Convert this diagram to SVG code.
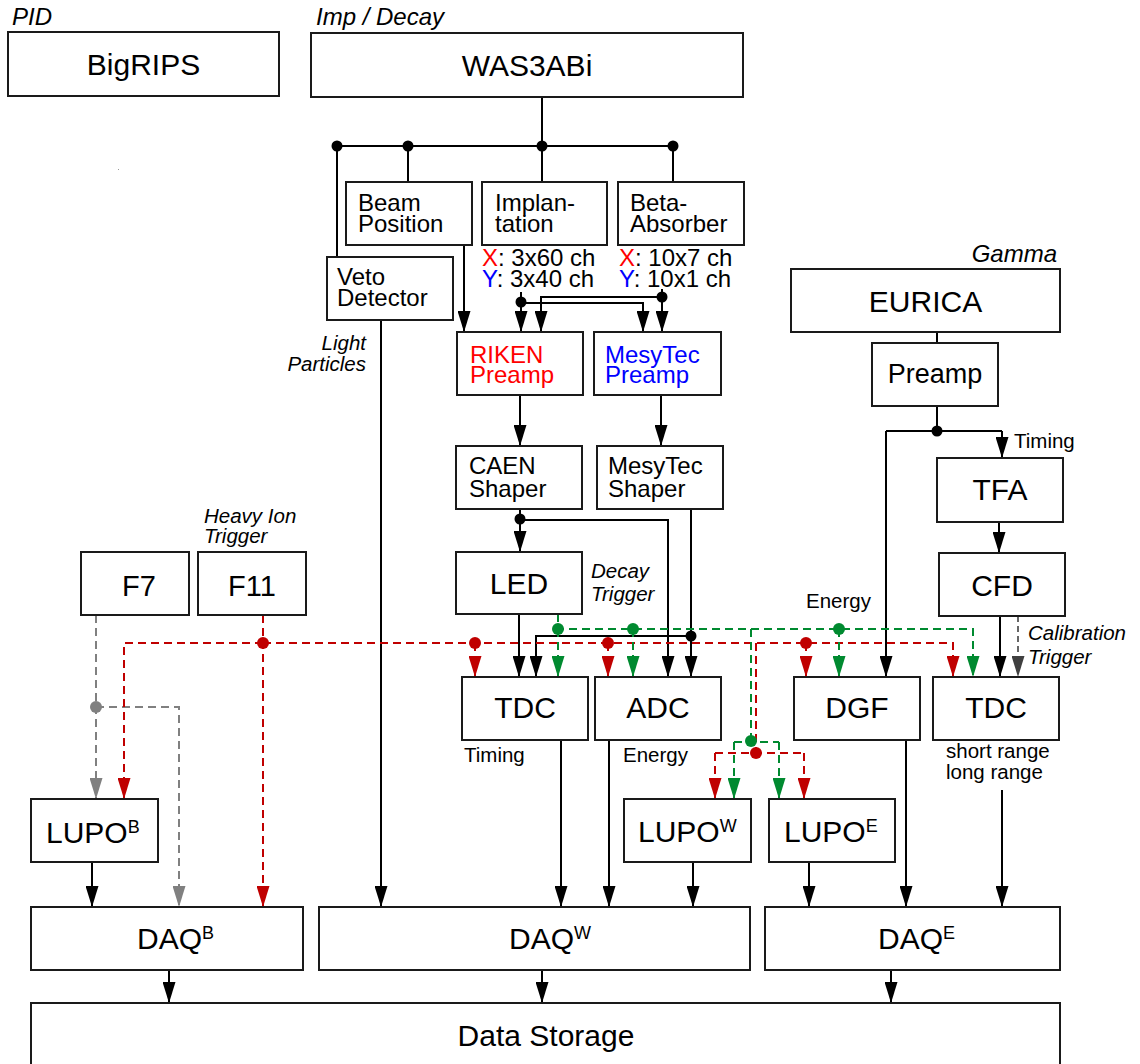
<svg xmlns="http://www.w3.org/2000/svg" width="1140" height="1064" viewBox="0 0 1140 1064">
<style>
.box{fill:#fff;stroke:#1a1a1a;stroke-width:2}
.ln{fill:none;stroke:#000;stroke-width:2}
.rd{fill:none;stroke:#c00000;stroke-width:2;stroke-dasharray:8 5}
.gn{fill:none;stroke:#008a30;stroke-width:2;stroke-dasharray:8 5}
.gy{fill:none;stroke:#808080;stroke-width:2;stroke-dasharray:8 5}
.dg{fill:none;stroke:#666;stroke-width:2;stroke-dasharray:6 4}
.dk{fill:#000}.dr{fill:#c00000}.dgn{fill:#008a30}.dgy{fill:#808080}
text{font-family:"Liberation Sans",Arial,sans-serif;font-size:24px;fill:#000}
.big{font-size:30px}
.mid{text-anchor:middle}
.it{font-style:italic}
.sm{font-size:20.5px}
.hd{font-size:24px;font-style:italic}
</style>
<defs>
<marker id="ah" viewBox="0 0 21 13" refX="21" refY="6.5" markerWidth="21" markerHeight="13" markerUnits="userSpaceOnUse" orient="auto"><path d="M0,0 L21,6.5 L0,13 Z" fill="#000"/></marker>
<marker id="ahr" viewBox="0 0 21 13" refX="21" refY="6.5" markerWidth="21" markerHeight="13" markerUnits="userSpaceOnUse" orient="auto"><path d="M0,0 L21,6.5 L0,13 Z" fill="#c00000"/></marker>
<marker id="ahg" viewBox="0 0 21 13" refX="21" refY="6.5" markerWidth="21" markerHeight="13" markerUnits="userSpaceOnUse" orient="auto"><path d="M0,0 L21,6.5 L0,13 Z" fill="#008a30"/></marker>
<marker id="ahy" viewBox="0 0 21 13" refX="21" refY="6.5" markerWidth="21" markerHeight="13" markerUnits="userSpaceOnUse" orient="auto"><path d="M0,0 L21,6.5 L0,13 Z" fill="#808080"/></marker>
<marker id="ahd" viewBox="0 0 21 13" refX="21" refY="6.5" markerWidth="21" markerHeight="13" markerUnits="userSpaceOnUse" orient="auto"><path d="M0,0 L21,6.5 L0,13 Z" fill="#404040"/></marker>
</defs>
<rect width="1140" height="1064" fill="#fff"/>

<g id="section-labels">
<text class="hd" x="12" y="25">PID</text>
<text class="hd" x="316" y="25">Imp / Decay</text>
<text class="hd" x="1057" y="262" text-anchor="end">Gamma</text>
<text class="it sm" x="366" y="350" text-anchor="end">Light</text>
<text class="it sm" x="366" y="371" text-anchor="end">Particles</text>
<text class="it sm" x="591" y="578">Decay</text>
<text class="it sm" x="591" y="601">Trigger</text>
<text class="it sm" x="204" y="523">Heavy Ion</text>
<text class="it sm" x="204" y="543">Trigger</text>
<text class="it sm" x="1028" y="640">Calibration</text>
<text class="it sm" x="1028" y="664">Trigger</text>
<text class="sm" x="464" y="762">Timing</text>
<text class="sm" x="623" y="762">Energy</text>
<text class="sm" x="806" y="608">Energy</text>
<text class="sm" x="1014" y="448">Timing</text>
<text class="sm" x="946" y="758">short range</text>
<text class="sm" x="946" y="779">long range</text>
<text x="482" y="266"><tspan fill="#ff0000">X</tspan>: 3x60 ch</text>
<text x="482" y="287"><tspan fill="#0000ff">Y</tspan>: 3x40 ch</text>
<text x="619" y="266"><tspan fill="#ff0000">X</tspan>: 10x7 ch</text>
<text x="619" y="287"><tspan fill="#0000ff">Y</tspan>: 10x1 ch</text>
<rect x="118" y="169" width="1" height="1" fill="#999"/>
</g>

<g id="connectors">
<!-- black solid -->
<path class="ln" d="M542,97 V146 M337,146 H673 M408,146 V182 M542,146 V182 M673,146 V182 M337,146 V257"/>
<path class="ln" d="M464,245 V332" marker-end="url(#ah)"/>
<path class="ln" d="M381,320 V907" marker-end="url(#ah)"/>
<path class="ln" d="M521,292 V332" marker-end="url(#ah)"/>
<path class="ln" d="M521,303 H643 V332" marker-end="url(#ah)"/>
<path class="ln" d="M662,289 V332" marker-end="url(#ah)"/>
<path class="ln" d="M662,297 H541 V332" marker-end="url(#ah)"/>
<path class="ln" d="M520,395 V446" marker-end="url(#ah)"/>
<path class="ln" d="M661,395 V446" marker-end="url(#ah)"/>
<path class="ln" d="M520,509 V552" marker-end="url(#ah)"/>
<path class="ln" d="M520,520 H668 V677" marker-end="url(#ah)"/>
<path class="ln" d="M691,509 V677" marker-end="url(#ah)"/>
<path class="ln" d="M691,636 H536 V677" marker-end="url(#ah)"/>
<path class="ln" d="M519,614 V677" marker-end="url(#ah)"/>
<path class="ln" d="M561,740 V907" marker-end="url(#ah)"/>
<path class="ln" d="M609,740 V907" marker-end="url(#ah)"/>
<path class="ln" d="M693,862 V907" marker-end="url(#ah)"/>
<path class="ln" d="M809,862 V907" marker-end="url(#ah)"/>
<path class="ln" d="M906,740 V907" marker-end="url(#ah)"/>
<path class="ln" d="M1002,790 V907" marker-end="url(#ah)"/>
<path class="ln" d="M92,862 V907" marker-end="url(#ah)"/>
<path class="ln" d="M937,332 V343 M937,406 V431 M886,431 H1002"/>
<path class="ln" d="M886,431 V677" marker-end="url(#ah)"/>
<path class="ln" d="M1002,431 V458" marker-end="url(#ah)"/>
<path class="ln" d="M999,522 V553" marker-end="url(#ah)"/>
<path class="ln" d="M1000,616 V677" marker-end="url(#ah)"/>
<path class="ln" d="M169,970 V1003" marker-end="url(#ah)"/>
<path class="ln" d="M542,970 V1003" marker-end="url(#ah)"/>
<path class="ln" d="M891,970 V1003" marker-end="url(#ah)"/>
<!-- gray -->
<path class="gy" d="M96,615 V799" marker-end="url(#ahy)"/>
<path class="gy" d="M96,707 H179 V907" marker-end="url(#ahy)"/>
<path class="dg" d="M1018,616 V677" marker-end="url(#ahd)"/>
<!-- red -->
<path class="rd" d="M263,615 V907" marker-end="url(#ahr)"/>
<path class="rd" d="M263,643 H124 V799" marker-end="url(#ahr)"/>
<path class="rd" d="M263,643 H953 V677" marker-end="url(#ahr)"/>
<path class="rd" d="M475,643 V677" marker-end="url(#ahr)"/>
<path class="rd" d="M608,643 V677" marker-end="url(#ahr)"/>
<path class="rd" d="M806,643 V677" marker-end="url(#ahr)"/>
<path class="rd" d="M756,643 V753 M715,753 H804"/>
<path class="rd" d="M715,753 V799" marker-end="url(#ahr)"/>
<path class="rd" d="M804,753 V799" marker-end="url(#ahr)"/>
<!-- green -->
<path class="gn" d="M558,614 V629 H973 V677" marker-end="url(#ahg)"/>
<path class="gn" d="M558,629 V677" marker-end="url(#ahg)"/>
<path class="gn" d="M633,629 V677" marker-end="url(#ahg)"/>
<path class="gn" d="M839,629 V677" marker-end="url(#ahg)"/>
<path class="gn" d="M751,629 V742 M734,742 H779"/>
<path class="gn" d="M734,742 V799" marker-end="url(#ahg)"/>
<path class="gn" d="M779,742 V799" marker-end="url(#ahg)"/>
<!-- dots -->
<circle class="dk" cx="337" cy="146" r="5.5"/>
<circle class="dk" cx="408" cy="146" r="5.5"/>
<circle class="dk" cx="542" cy="146" r="5.5"/>
<circle class="dk" cx="673" cy="146" r="5.5"/>
<circle class="dk" cx="521" cy="302" r="5.5"/>
<circle class="dk" cx="662" cy="297" r="5.5"/>
<circle class="dk" cx="520" cy="519" r="5.5"/>
<circle class="dk" cx="691" cy="636" r="5.5"/>
<circle class="dk" cx="937" cy="431" r="5.5"/>
<circle class="dgy" cx="96" cy="707" r="6"/>
<circle class="dr" cx="263" cy="643" r="6"/>
<circle class="dr" cx="475" cy="643" r="6"/>
<circle class="dr" cx="608" cy="643" r="6"/>
<circle class="dr" cx="806" cy="643" r="6"/>
<circle class="dr" cx="756" cy="753" r="6"/>
<circle class="dgn" cx="558" cy="629" r="6"/>
<circle class="dgn" cx="633" cy="629" r="6"/>
<circle class="dgn" cx="839" cy="629" r="6"/>
<circle class="dgn" cx="751" cy="741" r="6"/>
</g>

<g id="bigrips"><rect class="box" x="8" y="32" width="271" height="64"/><text class="big mid" x="143.5" y="75">BigRIPS</text></g>
<g id="was3abi"><rect class="box" x="311" y="33" width="432" height="64"/><text class="big mid" x="527" y="76">WAS3ABi</text></g>
<g id="beam-position"><rect class="box" x="346" y="182" width="126" height="63"/><text x="358" y="211">Beam</text><text x="358" y="232">Position</text></g>
<g id="implantation"><rect class="box" x="482" y="182" width="125" height="63"/><text x="495" y="211">Implan-</text><text x="495" y="232">tation</text></g>
<g id="beta-absorber"><rect class="box" x="618" y="182" width="126" height="63"/><text x="630" y="211">Beta-</text><text x="630" y="232">Absorber</text></g>
<g id="veto"><rect class="box" x="327" y="257" width="126" height="63"/><text x="337" y="285">Veto</text><text x="337" y="306">Detector</text></g>
<g id="riken-preamp"><rect class="box" x="457" y="332" width="126" height="63"/><text x="470" y="363" fill="#ff0000" style="fill:#ff0000">RIKEN</text><text x="470" y="383" style="fill:#ff0000">Preamp</text></g>
<g id="mesytec-preamp"><rect class="box" x="594" y="332" width="127" height="63"/><text x="605" y="363" style="fill:#0000ff">MesyTec</text><text x="605" y="383" style="fill:#0000ff">Preamp</text></g>
<g id="caen-shaper"><rect class="box" x="456" y="446" width="126" height="63"/><text x="469" y="474">CAEN</text><text x="469" y="497">Shaper</text></g>
<g id="mesytec-shaper"><rect class="box" x="597" y="446" width="126" height="63"/><text x="608" y="474">MesyTec</text><text x="608" y="497">Shaper</text></g>
<g id="led"><rect class="box" x="456" y="552" width="126" height="62"/><text class="big mid" x="519" y="594">LED</text></g>
<g id="tdc-w"><rect class="box" x="462" y="677" width="126" height="63"/><text class="big mid" x="525" y="718">TDC</text></g>
<g id="adc"><rect class="box" x="595" y="677" width="126" height="63"/><text class="big mid" x="658" y="718">ADC</text></g>
<g id="dgf"><rect class="box" x="794" y="677" width="126" height="63"/><text class="big mid" x="857" y="718">DGF</text></g>
<g id="tdc-e"><rect class="box" x="933" y="677" width="126" height="63"/><text class="big mid" x="996" y="718">TDC</text></g>
<g id="eurica"><rect class="box" x="791" y="269" width="269" height="63"/><text class="big mid" x="925.5" y="312">EURICA</text></g>
<g id="preamp-e"><rect class="box" x="872" y="343" width="126" height="63"/><text class="mid" x="935" y="383" style="font-size:27px">Preamp</text></g>
<g id="tfa"><rect class="box" x="937" y="458" width="126" height="64"/><text class="big mid" x="1000" y="500">TFA</text></g>
<g id="cfd"><rect class="box" x="939" y="553" width="126" height="63"/><text class="big mid" x="1002" y="596">CFD</text></g>
<g id="f7"><rect class="box" x="81" y="552" width="108" height="63"/><text class="big mid" x="139" y="596" style="font-size:29px">F7</text></g>
<g id="f11"><rect class="box" x="198" y="552" width="108" height="63"/><text class="big mid" x="252" y="596" style="font-size:29px">F11</text></g>
<g id="lupo-b"><rect class="box" x="31" y="799" width="127" height="63"/><text class="big" x="46" y="843">LUPO<tspan style="font-size:18px" dy="-10">B</tspan></text></g>
<g id="lupo-w"><rect class="box" x="624" y="799" width="127" height="63"/><text class="big" x="638" y="842">LUPO<tspan style="font-size:18px" dy="-10">W</tspan></text></g>
<g id="lupo-e"><rect class="box" x="769" y="799" width="126" height="63"/><text class="big" x="784" y="842">LUPO<tspan style="font-size:18px" dy="-10">E</tspan></text></g>
<g id="daq-b"><rect class="box" x="31" y="907" width="272" height="63"/><text class="big" x="137" y="949">DAQ<tspan style="font-size:18px" dy="-10">B</tspan></text></g>
<g id="daq-w"><rect class="box" x="319" y="907" width="431" height="63"/><text class="big" x="509" y="949">DAQ<tspan style="font-size:18px" dy="-10">W</tspan></text></g>
<g id="daq-e"><rect class="box" x="765" y="907" width="295" height="63"/><text class="big" x="878" y="949">DAQ<tspan style="font-size:18px" dy="-10">E</tspan></text></g>
<g id="data-storage"><rect class="box" x="31" y="1003" width="1029" height="70"/><text class="big mid" x="546" y="1046">Data Storage</text></g>
</svg>
